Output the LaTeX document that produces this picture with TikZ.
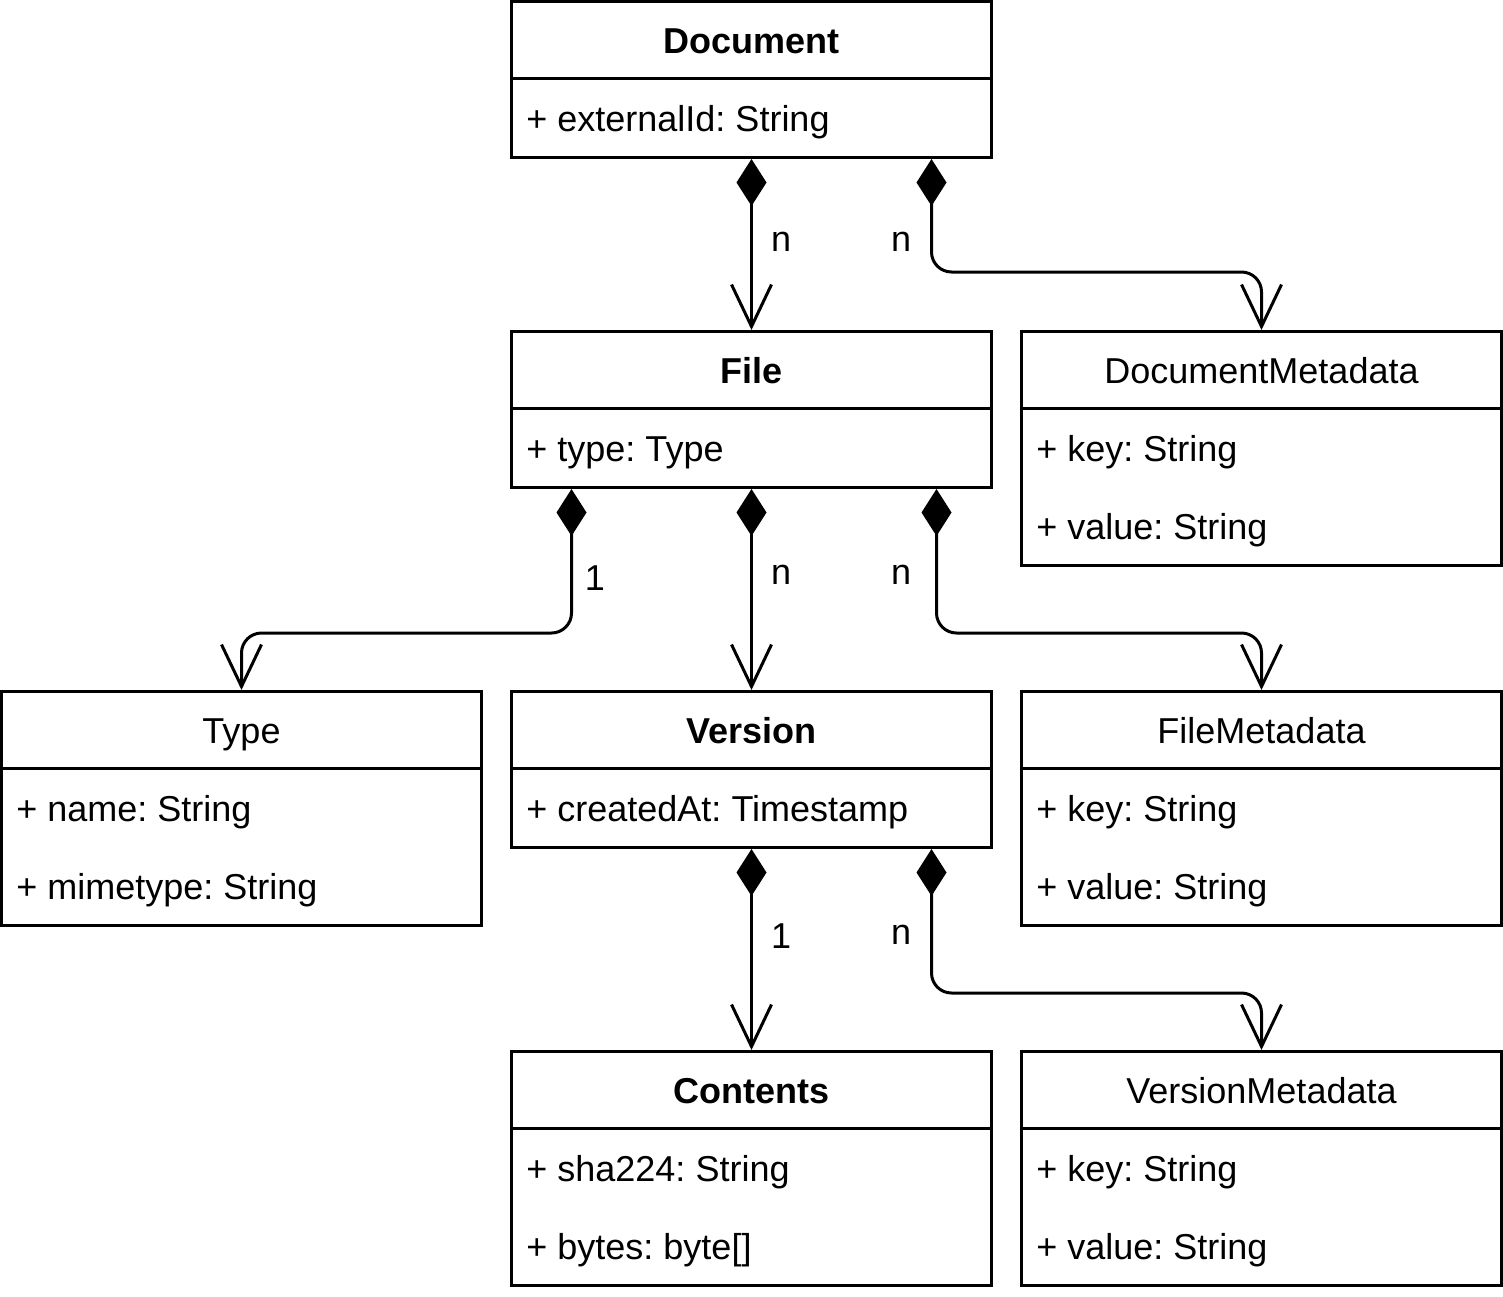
\documentclass[tikz,border=0pt]{standalone}
\usepackage{fontspec}
\setmainfont{Liberation Sans}
\usetikzlibrary{arrows.meta}
\frenchspacing
\tikzset{
 x=0.5pt,y=-0.5pt,
 box/.style={draw, line width=1.5pt, minimum width=240pt, inner sep=0pt, anchor=north west},
 two/.style={box, minimum height=78pt},
 three/.style={box, minimum height=117pt},
 sep/.style={line width=1.5pt},
 txt/.style={font=\fontsize{18}{21}\selectfont, inner sep=0pt},
 ttl/.style={txt, anchor=base},
 attr/.style={txt, anchor=base west},
 lbl/.style={txt},
 comp/.style={line width=1.5pt, rounded corners=10pt, {Diamond[length=23.5pt,width=15pt]}-{Straight Barb[length=21pt,width=20pt]}}
}
\begin{document}
\begin{tikzpicture}
\useasboundingbox (1,1) rectangle (1504,1297);
% Document
\node[two] (doc) at (511,1) {};
\draw[sep] ([yshift=-39pt]doc.north west) -- ([yshift=-39pt]doc.north east);
\node[ttl] (docT) at ([yshift=-26.75pt]doc.north) {\bfseries Document};
\node[attr] (docA) at ([xshift=8pt,yshift=-65.75pt]doc.north west) {+ externalId: String};
% File
\node[two] (file) at (511,331) {};
\draw[sep] ([yshift=-39pt]file.north west) -- ([yshift=-39pt]file.north east);
\node[ttl] (fileT) at ([yshift=-26.75pt]file.north) {\bfseries File};
\node[attr] (fileA) at ([xshift=8pt,yshift=-65.75pt]file.north west) {+ type: Type};
% DocumentMetadata
\node[three] (dm) at (1021,331) {};
\draw[sep] ([yshift=-39pt]dm.north west) -- ([yshift=-39pt]dm.north east);
\node[ttl] (dmT) at ([yshift=-26.75pt]dm.north) {DocumentMetadata};
\node[attr] (dmA) at ([xshift=8pt,yshift=-65.75pt]dm.north west) {+ key: String};
\node[attr] (dmB) at ([xshift=8pt,yshift=-104.75pt]dm.north west) {+ value: String};
% Type
\node[three] (type) at (1,691) {};
\draw[sep] ([yshift=-39pt]type.north west) -- ([yshift=-39pt]type.north east);
\node[ttl] (typeT) at ([yshift=-26.75pt]type.north) {Type};
\node[attr] (typeA) at ([xshift=8pt,yshift=-65.75pt]type.north west) {+ name: String};
\node[attr] (typeB) at ([xshift=8pt,yshift=-104.75pt]type.north west) {+ mimetype: String};
% Version
\node[two] (ver) at (511,691) {};
\draw[sep] ([yshift=-39pt]ver.north west) -- ([yshift=-39pt]ver.north east);
\node[ttl] (verT) at ([yshift=-26.75pt]ver.north) {\bfseries Version};
\node[attr] (verA) at ([xshift=8pt,yshift=-65.75pt]ver.north west) {+ createdAt: Timestamp};
% FileMetadata
\node[three] (fm) at (1021,691) {};
\draw[sep] ([yshift=-39pt]fm.north west) -- ([yshift=-39pt]fm.north east);
\node[ttl] (fmT) at ([yshift=-26.75pt]fm.north) {FileMetadata};
\node[attr] (fmA) at ([xshift=8pt,yshift=-65.75pt]fm.north west) {+ key: String};
\node[attr] (fmB) at ([xshift=8pt,yshift=-104.75pt]fm.north west) {+ value: String};
% Contents
\node[three] (cont) at (511,1051) {};
\draw[sep] ([yshift=-39pt]cont.north west) -- ([yshift=-39pt]cont.north east);
\node[ttl] (contT) at ([yshift=-26.75pt]cont.north) {\bfseries Contents};
\node[attr] (contA) at ([xshift=8pt,yshift=-65.75pt]cont.north west) {+ sha224: String};
\node[attr] (contB) at ([xshift=8pt,yshift=-104.75pt]cont.north west) {+ bytes: byte[]};
% VersionMetadata
\node[three] (vm) at (1021,1051) {};
\draw[sep] ([yshift=-39pt]vm.north west) -- ([yshift=-39pt]vm.north east);
\node[ttl] (vmT) at ([yshift=-26.75pt]vm.north) {VersionMetadata};
\node[attr] (vmA) at ([xshift=8pt,yshift=-65.75pt]vm.north west) {+ key: String};
\node[attr] (vmB) at ([xshift=8pt,yshift=-104.75pt]vm.north west) {+ value: String};
% connectors
\draw[comp] (doc.south) -- (file.north);
\draw[comp] ([xshift=90pt]doc.south) -- ++(0,113) -| (dm.north);
\draw[comp] ([xshift=-90pt]file.south) -- ++(0,144) -| (type.north);
\draw[comp] (file.south) -- (ver.north);
\draw[comp] ([xshift=92.5pt]file.south) -- ++(0,144) -| (fm.north);
\draw[comp] (ver.south) -- (cont.north);
\draw[comp] ([xshift=90pt]ver.south) -- ++(0,144) -| (vm.north);
% labels
\node[lbl] (l1) at (782,243) {n};
\node[lbl] (l2) at (902,243) {n};
\node[lbl] (l3) at (596,579) {1};
\node[lbl] (l4) at (782,576) {n};
\node[lbl] (l5) at (902,576) {n};
\node[lbl] (l6) at (782,937) {1};
\node[lbl] (l7) at (902,936) {n};
\end{tikzpicture}
\end{document}
